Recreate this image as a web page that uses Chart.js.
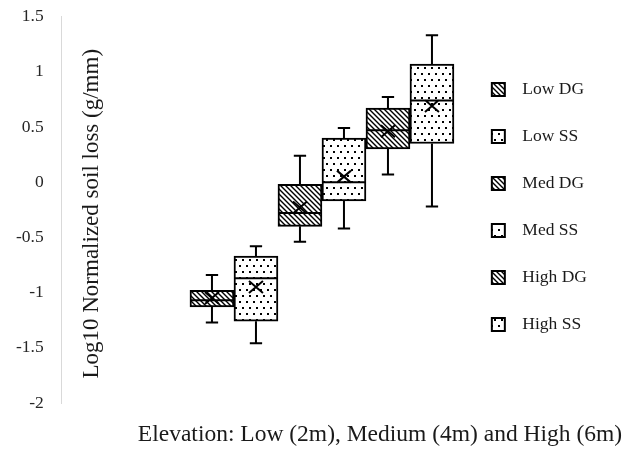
<!DOCTYPE html>
<html>
<head>
<meta charset="utf-8">
<script src="https://cdn.jsdelivr.net/npm/chart.js@4.4.1/dist/chart.umd.min.js"></script>
<style>
  html, body { margin: 0; padding: 0; background: #fff; }
  #wrap { width: 643px; height: 451px; }
</style>
</head>
<body>
<div id="wrap"><canvas id="soilLossChart" width="643" height="451"></canvas></div>
<script>
// box plot values (log10 normalized soil loss)
let groupLabels = ["Low DG", "Low SS", "Med DG", "Med SS", "High DG", "High SS"];
let whiskerLow = [-1.27, -1.46, -0.54, -0.42, 0.07, -0.22];
let q1Values = [-1.13, -1.26, -0.40, -0.17, 0.30, 0.35];
let medianValues = [-1.07, -0.87, -0.28, 0.00, 0.47, 0.74];
let q3Values = [-0.98, -0.67, -0.02, 0.40, 0.67, 1.07];
let whiskerHigh = [-0.84, -0.58, 0.24, 0.49, 0.77, 1.33];
let meanValues = [-1.05, -0.95, -0.23, 0.05, 0.46, 0.69];

let yMin = -2;
let yMax = 1.5;
let yStep = 0.5;

let xTitle = "Elevation: Low (2m), Medium (4m) and High (6m)";
let yTitle = "Log10 Normalized soil loss (g/mm)";

const serif = "'Liberation Serif', 'Times New Roman', serif";

function makePattern(kind) {
    let c = document.createElement("canvas");
    let ctx = c.getContext("2d");
    if (kind === "hatch") {
        c.width = 5;
        c.height = 5;
        ctx.fillStyle = "#fff";
        ctx.fillRect(0, 0, 5, 5);
        ctx.strokeStyle = "#000";
        ctx.lineWidth = 1.4;
        ctx.beginPath();
        ctx.moveTo(-1, -1); ctx.lineTo(6, 6);
        ctx.moveTo(-1, 4); ctx.lineTo(1, 6);
        ctx.moveTo(4, -1); ctx.lineTo(6, 1);
        ctx.stroke();
    } else {
        c.width = 7;
        c.height = 12;
        ctx.fillStyle = "#fff";
        ctx.fillRect(0, 0, 7, 12);
        ctx.fillStyle = "#000";
        ctx.fillRect(1, 1, 2, 2);
        ctx.fillRect(4, 7, 2, 2);
    }
    return ctx.createPattern(c, "repeat");
}

let hatchFill = makePattern("hatch");
let dotFill = makePattern("dots");

let datasets = groupLabels.map((name, i) => ({
    label: name,
    data: [{ x: 0, y: [q1Values[i], q3Values[i]] }],
    backgroundColor: name.endsWith("DG") ? hatchFill : dotFill,
    borderColor: "#000",
    borderWidth: 2,
    borderSkipped: false,
    barThickness: 44,
}));

// whiskers, median line, mean cross and the two axis titles
const boxExtras = {
    id: "boxExtras",
    afterDatasetsDraw(chart) {
        let ctx = chart.ctx;
        let y = chart.scales.y;
        ctx.save();
        ctx.strokeStyle = "#000";
        ctx.lineWidth = 2;
        groupLabels.forEach((name, i) => {
            let bar = chart.getDatasetMeta(i).data[0];
            if (!bar) return;
            let { x, width } = bar.getProps(["x", "width"], true);
            let half = width / 2;
            let cap = width * 0.14;
            let yHi = y.getPixelForValue(whiskerHigh[i]);
            let yLo = y.getPixelForValue(whiskerLow[i]);
            let yQ1 = y.getPixelForValue(q1Values[i]);
            let yQ3 = y.getPixelForValue(q3Values[i]);
            let yMed = y.getPixelForValue(medianValues[i]);
            let yMean = y.getPixelForValue(meanValues[i]);
            ctx.beginPath();
            ctx.moveTo(x, yQ3); ctx.lineTo(x, yHi);
            ctx.moveTo(x - cap, yHi); ctx.lineTo(x + cap, yHi);
            ctx.moveTo(x, yQ1); ctx.lineTo(x, yLo);
            ctx.moveTo(x - cap, yLo); ctx.lineTo(x + cap, yLo);
            ctx.moveTo(x - half + 1, yMed); ctx.lineTo(x + half - 1, yMed);
            ctx.moveTo(x - 7, yMean - 6); ctx.lineTo(x + 7, yMean + 6);
            ctx.moveTo(x + 7, yMean - 6); ctx.lineTo(x - 7, yMean + 6);
            ctx.stroke();
        });
        ctx.restore();
    },
    afterDraw(chart) {
        let ctx = chart.ctx;
        let area = chart.chartArea;
        ctx.save();
        ctx.fillStyle = "#1a1a1a";
        ctx.textAlign = "center";
        ctx.textBaseline = "middle";
        ctx.font = "23.5px " + serif;
        ctx.fillText(xTitle, 380, 435);
        ctx.font = "23px " + serif;
        ctx.translate(area.left + 30, (area.top + area.bottom) / 2 + 4);
        ctx.rotate(-Math.PI / 2);
        ctx.fillText(yTitle, 0, 0);
        ctx.restore();
    },
};

let soilCtx = document.getElementById("soilLossChart").getContext("2d");

let soilLossChart = new Chart(soilCtx, {
    type: "bar",
    data: { datasets: datasets },
    options: {
        responsive: false,
        animation: false,
        layout: { padding: { left: 10, right: 46, top: 11, bottom: 48 } },
        scales: {
            x: { type: "linear", display: false, min: -0.687, max: 0.313 },
            y: {
                min: yMin,
                max: yMax,
                ticks: {
                    stepSize: yStep,
                    padding: 6,
                    color: "#262626",
                    font: { family: serif, size: 17.5 },
                    callback: (v) => String(Math.round(v * 10) / 10),
                },
                grid: {
                    display: true,
                    drawOnChartArea: false,
                    drawTicks: true,
                    tickLength: 12,
                    tickColor: "rgba(0,0,0,0)",
                },
                border: { display: true, color: "#d9d9d9", width: 1 },
            },
        },
        plugins: {
            legend: {
                position: "right",
                labels: {
                    boxWidth: 13,
                    boxHeight: 13,
                    padding: 29.5,
                    color: "#1a1a1a",
                    font: { family: serif, size: 17.5 },
                    generateLabels: (chart) =>
                        Chart.defaults.plugins.legend.labels.generateLabels(chart).map((item) => {
                            item.text = "  " + item.text;
                            return item;
                        }),
                },
            },
            tooltip: { enabled: false },
        },
    },
    plugins: [boxExtras],
});
</script>
</body>
</html>
